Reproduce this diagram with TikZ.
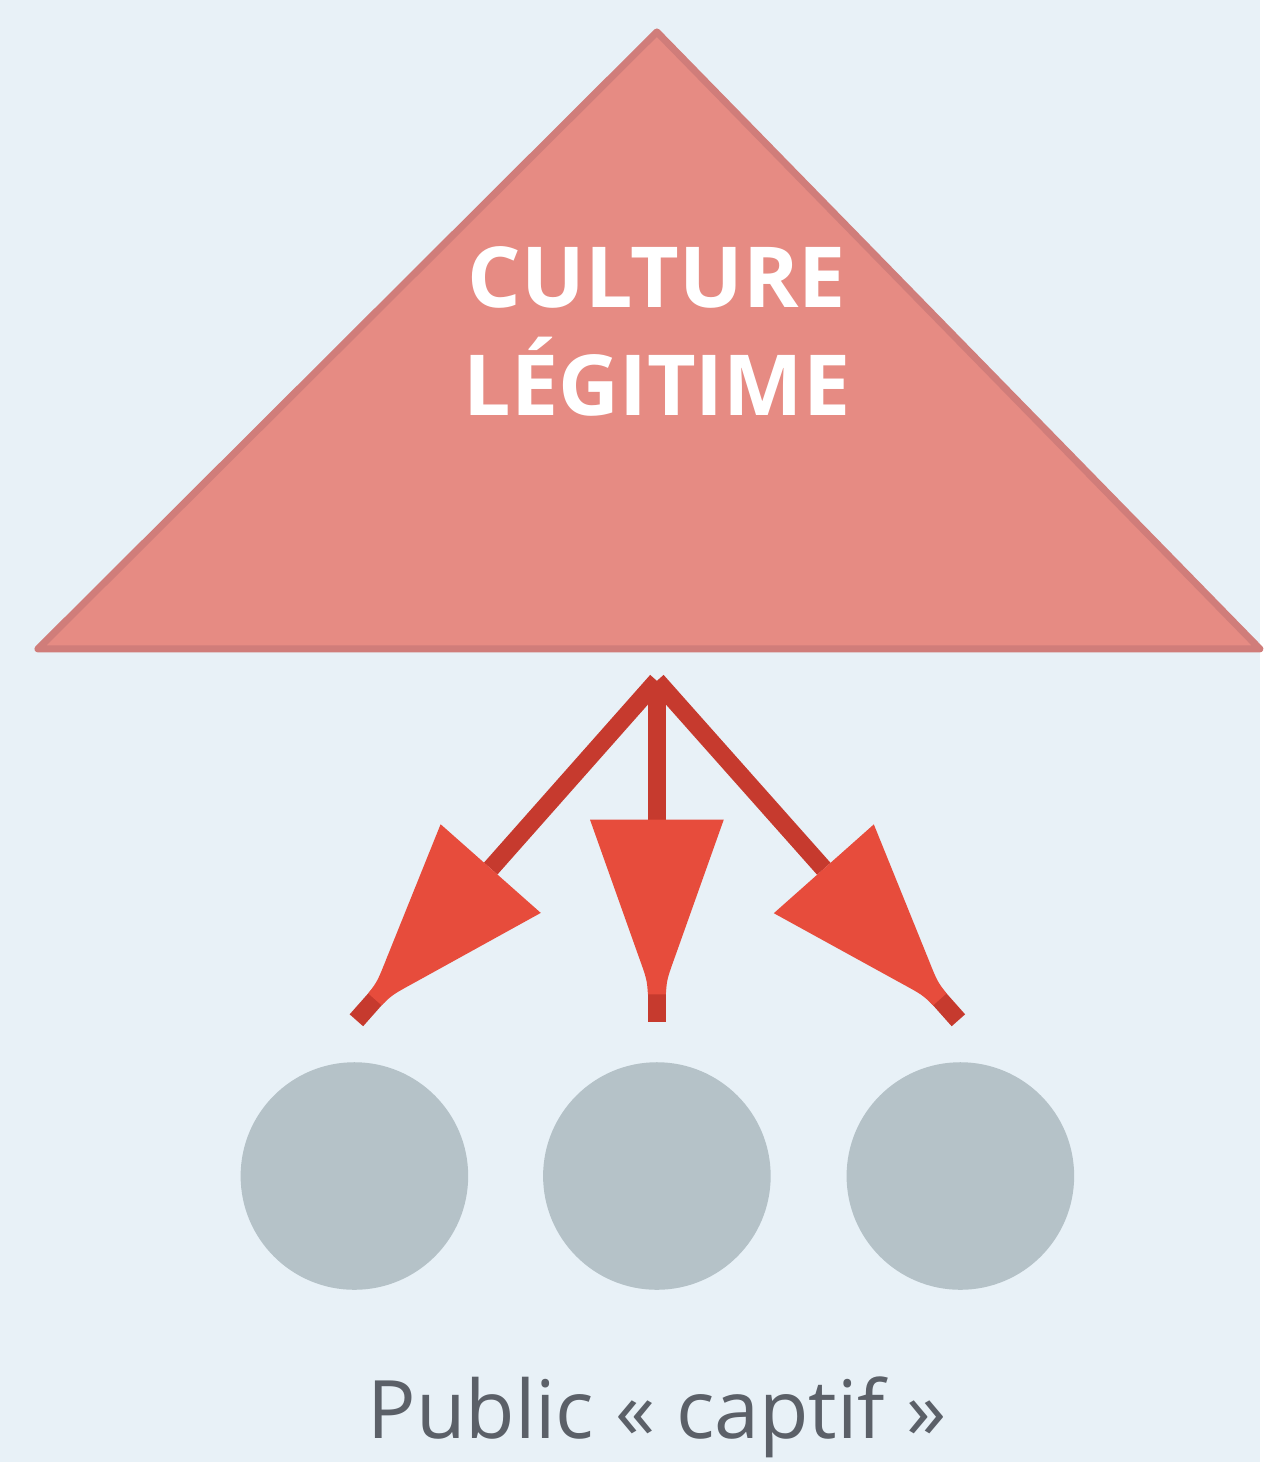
\documentclass[tikz,border=0pt]{standalone}
\usepackage{fontspec}
\setmainfont{Open Sans}
\usetikzlibrary{calc}
\definecolor{fond}{HTML}{E8F1F7}
\definecolor{rosetri}{HTML}{E68B83}
\definecolor{bordtri}{HTML}{D07D7A}
\definecolor{rougepointe}{HTML}{E74C3C}
\definecolor{rougetige}{HTML}{C63A2E}
\definecolor{griscercle}{HTML}{B5C2C8}
\definecolor{gristexte}{HTML}{5B6068}
\tikzset{
  tige/.style={rougetige,line width=0.36cm},
  pointe/.style={fill=rougepointe},
  bout/.style={rougetige,line width=0.36cm},
  cercle/.style={circle,fill=griscercle,minimum size=4.56cm,inner sep=0pt}
}
\begin{document}
\begin{tikzpicture}[x=0.02cm,y=-0.02cm]
  % fond
  \fill[fond] (0,0) rectangle (1262,1464);

  % triangle
  \coordinate (sommet) at (658,32);
  \coordinate (basegauche) at (38,650);
  \coordinate (basedroite) at (1262,650);
  \filldraw[fill=rosetri,draw=bordtri,line width=0.14cm,line join=round]
    (sommet) -- (basegauche) -- (basedroite) -- cycle;
  \node[font=\bfseries\fontsize{48}{62}\selectfont,text=white,align=center]
    (titre) at (658,332) {CULTURE\\LÉGITIME};

  % cercles
  \node[cercle] (p1) at (355,1178) {};
  \node[cercle] (p2) at (658,1178) {};
  \node[cercle] (p3) at (962,1178) {};

  % flèches
  \coordinate (source) at (658,682);
  \coordinate (fin1) at (357,1022);
  \coordinate (fin2) at (658,1024);
  \coordinate (fin3) at (960,1022);
  \foreach \f in {1,2,3}{
    \coordinate (b) at ($(fin\f)!4.06cm!(source)$);
    \coordinate (t) at ($(fin\f)!0.56cm!(source)$);
    \coordinate (m) at ($(t)!0.8cm!(source)$);
    \coordinate (c) at ($(t)!0.3cm!(source)$);
    \draw[tige] (source) -- (b);
    \draw[bout] ($(t)!0.1cm!(source)$) -- (fin\f);
    \fill[pointe] ($(b)!1.34cm!90:(source)$) -- ($(m)!0.38cm!90:(source)$)
      .. controls ($(c)!0.2cm!90:(source)$) .. ($(t)!0.18cm!90:(source)$)
      -- ($(t)!0.18cm!-90:(source)$)
      .. controls ($(c)!0.2cm!-90:(source)$) .. ($(m)!0.38cm!-90:(source)$)
      -- ($(b)!1.34cm!-90:(source)$) -- cycle;
  }

  % légende
  \node[font=\fontsize{46}{56}\selectfont,text=gristexte] (public) at (658,1420)
    {Public « captif »};
\end{tikzpicture}
\end{document}
